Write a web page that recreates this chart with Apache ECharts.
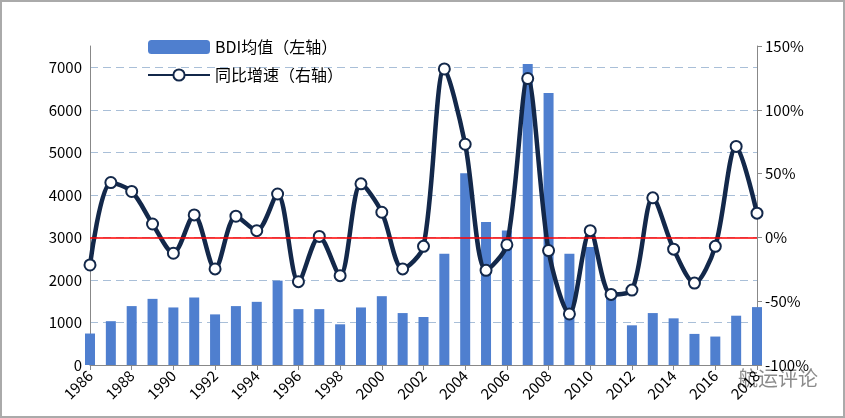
<!DOCTYPE html><html><head><meta charset="utf-8"><script src="https://cdn.jsdelivr.net/npm/echarts@6/dist/echarts.min.js"></script></head>
<body style="margin:0;background:#fff"><div id="c" style="width:845px;height:418px;box-sizing:border-box;border:2px solid #aaa"></div>
<script>
const years=[];for(let y=1986;y<=2018;y++)years.push(String(y));
const bdi=[740,1030,1385,1555,1353,1587,1190,1385,1485,1983,1314,1314,957,1353,1618,1221,1128,2613,4510,3360,3165,7077,6393,2613,2777,1594,933,1221,1097,731,669,1159,1361];
const yoy=[-21.6,43,36,10.5,-12.4,17.6,-24.7,16.6,5.3,34,-34.7,0.8,-30,42,19.7,-24.7,-7,132,73,-25.8,-5.8,124.5,-10.3,-60,5.3,-44.7,-41.3,31,-9.2,-35.8,-7,71.3,19];
const c=echarts.init(document.getElementById('c'));
const f='"Noto Sans CJK SC",Arial,sans-serif';
const gc='#a9bfd8';
c.setOption({animation:false,textStyle:{fontFamily:f},
grid:{left:88,right:86,top:44,bottom:51},
legend:{left:140,top:32,orient:'vertical',itemGap:12,itemWidth:62,itemHeight:14,textStyle:{fontSize:16,color:'#000'},data:['BDI均值（左轴）','同比增速（右轴）']},
xAxis:{type:'category',data:years,boundaryGap:false,axisLine:{lineStyle:{color:'#888'}},axisTick:{interval:1,lineStyle:{color:'#888'}},axisLabel:{interval:1,rotate:45,fontSize:15,color:'#000',margin:8}},
yAxis:[{type:'value',min:0,max:7500,interval:1000,axisLine:{show:true,lineStyle:{color:'#888'}},axisTick:{show:false},axisLabel:{fontSize:15,color:'#000',formatter:v=>v>7000?'':v},splitLine:{lineStyle:{type:[8,5],color:[gc,gc,gc,gc,gc,gc,gc,gc,'rgba(0,0,0,0)'],width:1.2}}},
{type:'value',min:-100,max:150,interval:50,position:'right',axisLine:{show:true,lineStyle:{color:'#888'}},axisTick:{show:true,lineStyle:{color:'#888'}},axisLabel:{fontSize:15,color:'#000',formatter:'{value}%'},splitLine:{show:false}}],
series:[{name:'BDI均值（左轴）',type:'bar',data:bdi,barWidth:10,itemStyle:{color:'#4f7fcf'}},
{name:'同比增速（右轴）',type:'line',yAxisIndex:1,data:yoy,smooth:0.3,symbol:'circle',symbolSize:11,lineStyle:{color:'#13284a',width:4.5},itemStyle:{color:'#fff',borderColor:'#13284a',borderWidth:2},
markLine:{silent:true,symbol:'none',label:{show:false},lineStyle:{color:'#f00',type:'solid',width:1.5},data:[{yAxis:0}]},z:3}],
graphic:[{type:'text',right:25,bottom:28,style:{text:'航运评论',font:'20px "Noto Sans CJK SC"',fill:'rgba(90,90,90,0.7)'}}]
});
</script></body></html>
